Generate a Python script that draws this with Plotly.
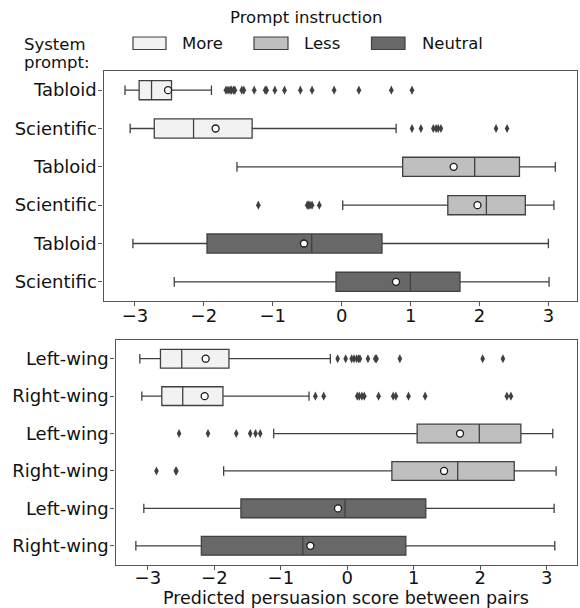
import plotly.graph_objects as go

# ---------------- data ----------------
hues = ["More", "Less", "Neutral"]
hue_colors = {"More": "#f2f2f2", "Less": "#bfbfbf", "Neutral": "#686868"}

top_labels = ["Tabloid", "Scientific", "Tabloid", "Scientific", "Tabloid", "Scientific"]
top_hue = ["More", "More", "Less", "Less", "Neutral", "Neutral"]
top_q1 = [-2.94, -2.72, 0.885, 1.54, -1.955, -0.083]
top_med = [-2.76, -2.15, 1.93, 2.10, -0.435, 0.996]
top_q3 = [-2.47, -1.30, 2.58, 2.665, 0.585, 1.717]
top_lo = [-3.145, -3.07, -1.52, 0.015, -3.03, -2.43]
top_hi = [-1.89, 0.79, 3.10, 3.08, 3.00, 3.01]
top_mean = [-2.52, -1.83, 1.625, 1.97, -0.547, 0.788]
top_out = [
    [-1.68, -1.65, -1.62, -1.60, -1.57, -1.55, -1.45, -1.42, -1.27, -1.11, -1.09,
     -0.97, -0.83, -0.60, -0.43, -0.11, 0.25, 0.72, 1.02],
    [1.02, 1.15, 1.33, 1.37, 1.40, 1.44, 2.24, 2.40],
    [],
    [-1.21, -0.50, -0.48, -0.46, -0.43, -0.325],
    [],
    [],
]

bot_labels = ["Left-wing", "Right-wing", "Left-wing", "Right-wing", "Left-wing", "Right-wing"]
bot_hue = ["More", "More", "Less", "Less", "Neutral", "Neutral"]
bot_q1 = [-2.81, -2.79, 1.05, 0.67, -1.60, -2.195]
bot_med = [-2.49, -2.475, 1.985, 1.66, -0.035, -0.67]
bot_q3 = [-1.78, -1.87, 2.61, 2.51, 1.18, 0.88]
bot_lo = [-3.12, -3.09, -1.107, -1.86, -3.06, -3.18]
bot_hi = [-0.255, -0.576, 3.09, 3.14, 3.11, 3.12]
bot_mean = [-2.13, -2.145, 1.695, 1.455, -0.14, -0.556]
bot_out = [
    [-0.145, -0.025, 0.065, 0.10, 0.14, 0.17, 0.19, 0.31, 0.42, 0.44, 0.79, 2.035, 2.34],
    [-0.48, -0.355, 0.15, 0.18, 0.22, 0.255, 0.47, 0.69, 0.73, 0.92, 1.17, 2.40, 2.46],
    [-2.53, -2.095, -1.67, -1.46, -1.38, -1.31],
    [-2.87, -2.58, -2.57],
    [],
    [],
]

x_ticks = [-3, -2, -1, 0, 1, 2, 3]

# ---------------- figure ----------------
W, H = 580, 608
LINE = "#404040"
FONT = "DejaVu Sans"
TXT = "#111111"

fig = go.Figure()


def add_panel(labels, hue, q1, med, q3, lo, hi, mean, outs, xa, ya):
    for i in range(len(labels)):
        fig.add_trace(go.Box(
            y=[i], q1=[q1[i]], median=[med[i]], q3=[q3[i]],
            lowerfence=[lo[i]], upperfence=[hi[i]],
            orientation="h", width=0.5, whiskerwidth=0.5,
            fillcolor=hue_colors[hue[i]],
            line=dict(color=LINE, width=1.3),
            boxpoints=False, showlegend=False,
            xaxis=xa, yaxis=ya, hoverinfo="skip",
        ))
        if outs[i]:
            fig.add_trace(go.Scatter(
                x=outs[i], y=[i] * len(outs[i]), mode="markers",
                marker=dict(symbol="diamond-tall", size=6.5, color=LINE,
                            line=dict(width=0)),
                showlegend=False, xaxis=xa, yaxis=ya, hoverinfo="skip",
            ))
    fig.add_trace(go.Scatter(
        x=mean, y=list(range(len(labels))), mode="markers",
        marker=dict(symbol="circle", size=7, color="white",
                    line=dict(color="#1a1a1a", width=1.3)),
        showlegend=False, xaxis=xa, yaxis=ya, hoverinfo="skip",
    ))


add_panel(top_labels, top_hue, top_q1, top_med, top_q3, top_lo, top_hi, top_mean, top_out, "x", "y")
add_panel(bot_labels, bot_hue, bot_q1, bot_med, bot_q3, bot_lo, bot_hi, bot_mean, bot_out, "x2", "y2")

axis_common = dict(
    showline=True, linecolor="#555555", linewidth=1.2, mirror=True,
    ticks="outside", ticklen=4, tickcolor="#555555", tickwidth=1,
    showgrid=False, zeroline=False, automargin=False,
    tickfont=dict(family=FONT, size=18, color=TXT),
)

fig.update_layout(
    width=W, height=H,
    margin=dict(l=0, r=0, t=0, b=0),
    plot_bgcolor="white", paper_bgcolor="white",
    boxmode="overlay",
    showlegend=False,
    font=dict(family=FONT, color=TXT),
    xaxis=dict(domain=[103.5 / W, 577 / W], range=[-3.457, 3.415],
               tickvals=x_ticks, anchor="y", ticklabelstandoff=-6, **axis_common),
    yaxis=dict(domain=[(H - 301) / H, (H - 71) / H], range=[5.5, -0.5],
               tickvals=list(range(6)), ticktext=top_labels, anchor="x",
               ticklabelstandoff=-2, **axis_common),
    xaxis2=dict(domain=[115.5 / W, 577 / W], range=[-3.486, 3.454],
                tickvals=x_ticks, anchor="y2", ticklabelstandoff=-7, **axis_common),
    yaxis2=dict(domain=[(H - 564.5) / H, (H - 340) / H], range=[5.5, -0.5],
                tickvals=list(range(6)), ticktext=bot_labels, anchor="x2",
                ticklabelstandoff=-2, **axis_common),
)

# x-axis title of the lower panel
fig.add_annotation(text="Predicted persuasion score between pairs",
                   xref="paper", yref="paper", x=(115.5 + 577) / 2 / W,
                   y=0, xanchor="center", yanchor="bottom", yshift=-2,
                   showarrow=False, font=dict(family=FONT, size=17.5, color=TXT))

# ---------------- legend (manual) ----------------
legend_x = [(133, 166, 180), (254, 288, 302), (371.5, 405, 420)]
for (x0, x1, tx), h in zip(legend_x, hues):
    fig.add_shape(type="rect", xref="paper", yref="paper",
                  x0=x0 / W, x1=x1 / W, y0=(H - 49.5) / H, y1=(H - 37) / H,
                  fillcolor=hue_colors[h], line=dict(color=LINE, width=1.2))
    fig.add_annotation(text=h, xref="paper", yref="paper", x=tx / W,
                       y=(H - 43.5) / H, xanchor="left", yanchor="middle",
                       showarrow=False, font=dict(family=FONT, size=16.5, color=TXT))

fig.add_annotation(text="Prompt instruction", xref="paper", yref="paper",
                   x=306 / W, y=(H - 17) / H, xanchor="center", yanchor="middle",
                   showarrow=False, font=dict(family=FONT, size=16.5, color=TXT))
fig.add_annotation(text="System", xref="paper", yref="paper",
                   x=55 / W, y=(H - 44.5) / H, xanchor="center", yanchor="middle",
                   showarrow=False, font=dict(family=FONT, size=16.5, color=TXT))
fig.add_annotation(text="prompt:", xref="paper", yref="paper",
                   x=56.5 / W, y=(H - 62.5) / H, xanchor="center", yanchor="middle",
                   showarrow=False, font=dict(family=FONT, size=16.5, color=TXT))

fig.write_html("out.html", config={"displayModeBar": False},
               post_script="document.body.style.margin='0px';document.body.style.overflow='hidden';")
